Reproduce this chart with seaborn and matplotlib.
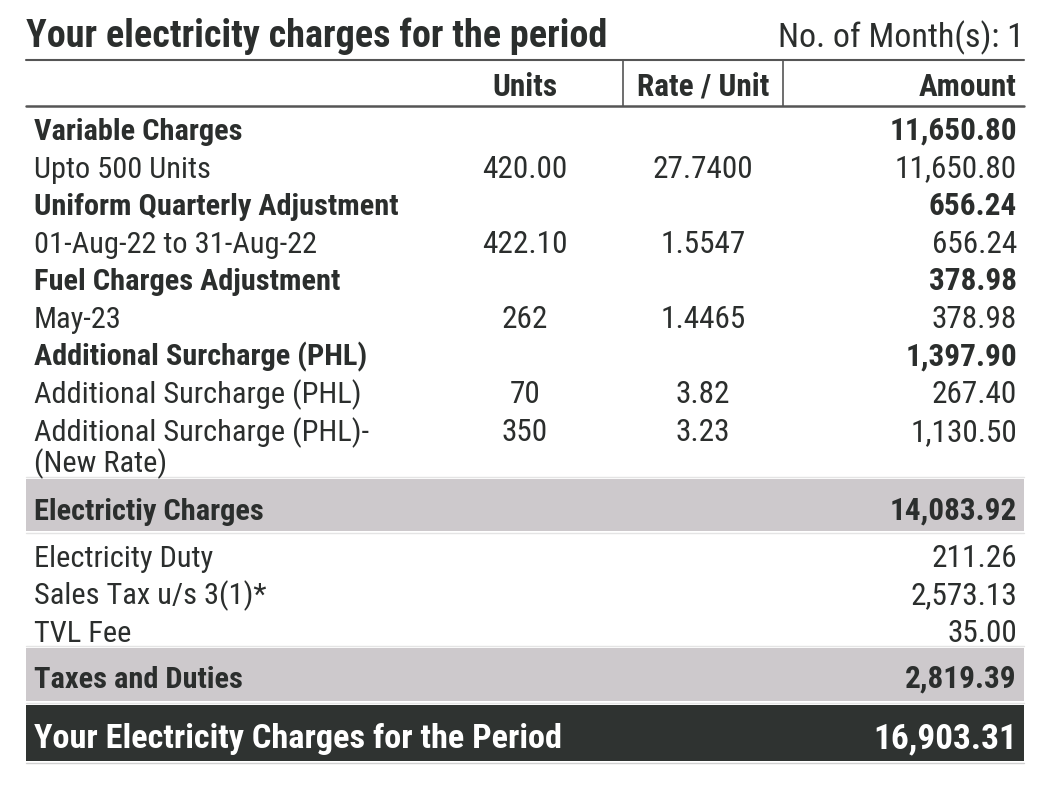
import os
import matplotlib.pyplot as plt
import seaborn as sns
from matplotlib import font_manager
from matplotlib.font_manager import FontProperties

sns.set_theme(style='white')
plt.rcParams['font.family'] = ['DejaVu Sans']

# textos e valores da tabela
title = "Your electricity charges for the period"
months_label = "No. of Month(s): 1"
col_headers = ["Units", "Rate / Unit", "Amount"]

row_labels = ["Variable Charges", "Upto 500 Units", "Uniform Quarterly Adjustment",
              "01-Aug-22 to 31-Aug-22", "Fuel Charges Adjustment", "May-23",
              "Additional Surcharge (PHL)", "Additional Surcharge (PHL)",
              "Additional Surcharge (PHL)-\n(New Rate)"]
row_units = ["", "420.00", "", "422.10", "", "262", "", "70", "350"]
row_rates = ["", "27.7400", "", "1.5547", "", "1.4465", "", "3.82", "3.23"]
row_amounts = ["11,650.80", "11,650.80", "656.24", "656.24", "378.98", "378.98",
               "1,397.90", "267.40", "1,130.50"]
row_bold = [True, False, True, False, True, False, True, False, False]

subtotal1_label = "Electrictiy Charges"
subtotal1_amount = "14,083.92"

tax_labels = ["Electricity Duty", "Sales Tax u/s 3(1)*", "TVL Fee"]
tax_amounts = ["211.26", "2,573.13", "35.00"]

subtotal2_label = "Taxes and Duties"
subtotal2_amount = "2,819.39"

total_label = "Your Electricity Charges for the Period"
total_amount = "16,903.31"

# procurando uma fonte condensada instalada
files = {os.path.basename(f.fname): f.fname for f in font_manager.fontManager.ttflist}
files.update({os.path.basename(p): p for p in font_manager.findSystemFonts()})
pairs = [('RobotoCondensed-Regular.ttf', 'RobotoCondensed-Bold.ttf', 0.98),
         ('LiberationSansNarrow-Regular.ttf', 'LiberationSansNarrow-Bold.ttf', 1.0),
         ('DejaVuSansCondensed.ttf', 'DejaVuSansCondensed-Bold.ttf', 0.86)]
fp_reg, fp_bold, scale = None, None, 0.72
for reg, bold, sc in pairs:
    if reg in files and bold in files:
        fp_reg = FontProperties(fname=files[reg])
        fp_bold = FontProperties(fname=files[bold])
        scale = sc
        break
if fp_reg is None:
    fp_reg = FontProperties(family='DejaVu Sans')
    fp_bold = FontProperties(family='DejaVu Sans', weight='bold')


def put(x, y, s, size, bold=False, **kw):
    fp = (fp_bold if bold else fp_reg).copy()
    fp.set_size(size * scale)
    kw.setdefault('color', text_c)
    kw.setdefault('va', 'baseline')
    ax.text(x, y, s, fontproperties=fp, **kw)


# cores
text_c = '#2b2e2d'
line_c = '#555555'
band_c = '#cdc9cc'
dark_c = '#2f3331'
faint_c = '#e4e4e4'

W, H = 1049, 787
fig = plt.figure(figsize=(W / 100, H / 100), dpi=100)
ax = fig.add_axes([0, 0, 1, 1])
ax.set_xlim(0, W)
ax.set_ylim(H, 0)
ax.axis('off')

left, right = 26, 1024
x_label, x_units, x_rate, x_amount = 34, 525, 703, 1017
num_fs = 23
lab_fs = 22.3
step = 37.6
x0, x1 = left / W, right / W

# titulo
put(left, 47, title, 28, bold=True)
put(right, 47, months_label, 25, ha='right')

# cabecalho
ax.plot([left, right], [60, 60], color=line_c, lw=1.5)
ax.plot([left, right], [106, 106], color=line_c, lw=1.8)
for xv in [623, 783]:
    ax.plot([xv, xv], [60, 106], color=line_c, lw=1.2)
put(x_units, 96, col_headers[0], num_fs, bold=True, ha='center')
put(x_rate, 96, col_headers[1], num_fs, bold=True, ha='center')
put(x_amount, 96, col_headers[2], num_fs, bold=True, ha='right')

# linhas de detalhe
for i, lab in enumerate(row_labels):
    yb = 140 + i * step
    parts = lab.split('\n')
    put(x_label, yb, parts[0], lab_fs, bold=row_bold[i])
    for k, part in enumerate(parts[1:]):
        # segunda linha do rotulo, logo abaixo da primeira
        put(x_label, yb + 7.5 + k * 29, part, lab_fs, bold=row_bold[i], va='top')
    put(x_units, yb, row_units[i], num_fs, ha='center')
    put(x_rate, yb, row_rates[i], num_fs, ha='center')
    put(x_amount, yb, row_amounts[i], num_fs, bold=row_bold[i], ha='right')

# subtotal 1
ax.axhspan(479, 531, xmin=x0, xmax=x1, color=band_c, lw=0)
ax.plot([left, right], [477, 477], color=faint_c, lw=1)
ax.plot([left, right], [533, 533], color=faint_c, lw=1)
put(x_label, 520, subtotal1_label, lab_fs, bold=True)
put(x_amount, 520, subtotal1_amount, num_fs, bold=True, ha='right')

# impostos
for i, lab in enumerate(tax_labels):
    yb = 567 + i * step
    put(x_label, yb, lab, lab_fs)
    put(x_amount, yb, tax_amounts[i], num_fs, ha='right')

# subtotal 2
ax.axhspan(648, 701, xmin=x0, xmax=x1, color=band_c, lw=0)
ax.plot([left, right], [646, 646], color=faint_c, lw=1)
ax.plot([left, right], [703, 703], color=faint_c, lw=1)
put(x_label, 688, subtotal2_label, lab_fs, bold=True)
put(x_amount, 688, subtotal2_amount, num_fs, bold=True, ha='right')

# total
ax.axhspan(705, 761, xmin=x0, xmax=x1, color=dark_c, lw=0)
ax.plot([left, right], [763, 763], color='#d0d0d0', lw=1)
put(x_label, 748, total_label, 25.2, bold=True, color='white')
put(x_amount, 748, total_amount, 26, bold=True, color='white', ha='right')

fig.savefig('out.png', dpi=100, facecolor='white')
